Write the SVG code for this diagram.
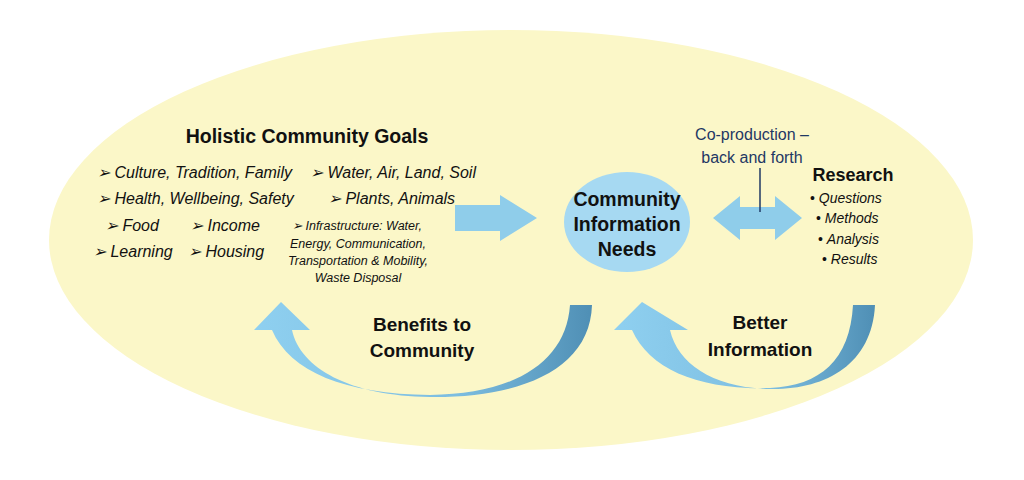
<svg xmlns="http://www.w3.org/2000/svg" width="1024" height="480" viewBox="0 0 1024 480">
<defs>
<linearGradient id="ga" x1="0" y1="0" x2="1" y2="0"><stop offset="0" stop-color="#8fd0f0"/><stop offset="0.6" stop-color="#7cbde0"/><stop offset="1" stop-color="#4f8fb5"/></linearGradient>
</defs>
<style>
.t{font-family:"Liberation Sans",Arial,sans-serif;fill:#111}
.b{font-weight:bold}
.i{font-style:italic;font-size:16px}
.s{font-style:italic;font-size:12.5px}
.blue{fill:#1f3864;font-size:16px}
.arr{fill:#8fcdea}
.n{font-family:"Liberation Sans Narrow","Liberation Sans",Arial,sans-serif;font-weight:bold;font-size:19px;fill:#111}
</style>
<rect width="1024" height="480" fill="#fff"/>
<ellipse cx="511" cy="240" rx="462" ry="210" fill="#fbf7c8"/>
<g id="connectors">
<path class="arr" d="M455,205 H500 V195 L537,218 L500,241 V231 H455 Z"/>
<path class="arr" d="M713,218 L740,196 V207 H775 V196 L802,218 L775,240 V229 H740 V240 Z"/>
<line x1="760" y1="168" x2="760" y2="212" stroke="#1f3864" stroke-width="1.5"/>
<path fill="url(#ga)" d="M570,305 L592,305 C590,370 520,398 430,397 C350,396 300,368 292,330 L310,330 L281,302 L254,330 L272,330 C290,372 345,394 430,395 C515,394 566,362 570,305 Z"/>
<path fill="url(#ga)" d="M853,305 L875,305 C872,365 825,390 770,389 C715,388 678,365 670,330 L688,330 L642,302 L614,330 L632,330 C650,370 700,390 770,388 C820,386 850,360 853,305 Z"/>
</g>
<g id="goals">
<text class="t b" x="307" y="143" font-size="19.5" text-anchor="middle">Holistic Community Goals</text>
<text class="t i" x="97" y="178">➢ Culture, Tradition, Family</text>
<text class="t i" x="310" y="178">➢ Water, Air, Land, Soil</text>
<text class="t i" x="97" y="204">➢ Health, Wellbeing, Safety</text>
<text class="t i" x="328" y="204">➢ Plants, Animals</text>
<text class="t i" x="105" y="231">➢ Food</text>
<text class="t i" x="190" y="231">➢ Income</text>
<text class="t i" x="93" y="257">➢ Learning</text>
<text class="t i" x="188" y="257">➢ Housing</text>
<text class="t s" x="292" y="230">➢ Infrastructure: Water,</text>
<text class="t s" x="358" y="248" text-anchor="middle">Energy, Communication,</text>
<text class="t s" x="358" y="265" text-anchor="middle">Transportation &amp; Mobility,</text>
<text class="t s" x="358" y="282" text-anchor="middle">Waste Disposal</text>
</g>
<g id="needs">
<ellipse cx="627" cy="222" rx="63" ry="50" fill="#a6d9f2"/>
<text class="t b" x="627" y="206" font-size="19.5" text-anchor="middle">Community</text>
<text class="t b" x="627" y="231" font-size="19.5" text-anchor="middle">Information</text>
<text class="t b" x="627" y="256" font-size="19.5" text-anchor="middle">Needs</text>
</g>
<g id="coprod">
<text class="t blue" x="752" y="140" text-anchor="middle">Co-production –</text>
<text class="t blue" x="752" y="163" text-anchor="middle">back and forth</text>
</g>
<g id="research">
<text class="t b" x="853" y="181" font-size="18" text-anchor="middle">Research</text>
<text class="t" x="810" y="203" font-size="14">• <tspan font-style="italic">Questions</tspan></text>
<text class="t" x="816" y="223" font-size="14">• <tspan font-style="italic">Methods</tspan></text>
<text class="t" x="818" y="244" font-size="14">• <tspan font-style="italic">Analysis</tspan></text>
<text class="t" x="822" y="264" font-size="14">• <tspan font-style="italic">Results</tspan></text>
</g>
<g id="labels">
<text class="n" x="422" y="331" text-anchor="middle">Benefits to</text>
<text class="n" x="422" y="357" text-anchor="middle">Community</text>
<text class="n" x="760" y="329" text-anchor="middle">Better</text>
<text class="n" x="760" y="356" text-anchor="middle">Information</text>
</g>
</svg>
